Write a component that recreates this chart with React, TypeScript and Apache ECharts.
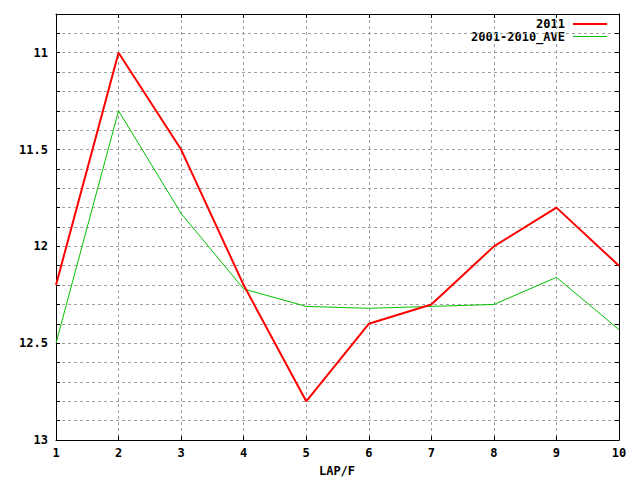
import React, { useEffect, useRef } from "react";
import * as echarts from "echarts";

const laps = [1, 2, 3, 4, 5, 6, 7, 8, 9, 10];
const series2011 = [12.2, 11.0, 11.5, 12.2, 12.8, 12.4, 12.3, 12.0, 11.8, 12.1];
const seriesAve = [12.5, 11.3, 11.83, 12.22, 12.31, 12.32, 12.31, 12.3, 12.16, 12.43];
const seriesNames = ["2011", "2001-2010_AVE"];
const xTitle = "LAP/F";

const FONT = "'DejaVu Sans Mono', monospace";

export default function App() {
  const ref = useRef<HTMLDivElement>(null);
  useEffect(() => {
    if (!ref.current) return;
    const chart = echarts.init(ref.current, null, { renderer: "svg" });
    const yLabel = (v: number) => {
      const d = v * 2;
      if (Math.abs(d - Math.round(d)) > 1e-6) return "";
      const r = Math.round(d) / 2;
      return String(r);
    };
    const tickStyle = { show: true, inside: true, length: 4, lineStyle: { color: "#000", width: 1 } };
    const split = { show: true, lineStyle: { color: "#a0a0a0", type: [3, 3] as any, width: 1 } };
    chart.setOption({
      animation: false,
      backgroundColor: "#fff",
      grid: { left: 56, right: 21, top: 14, bottom: 40, show: false },
      xAxis: [
        {
          type: "value",
          min: 1,
          max: 10,
          interval: 1,
          axisLine: { show: true, onZero: false, lineStyle: { color: "#000", width: 1 } },
          axisTick: tickStyle,
          splitLine: split,
          axisLabel: { color: "#000", fontFamily: FONT, fontWeight: "bold", fontSize: 12, margin: 7 },
        },
        {
          type: "value",
          position: "top",
          min: 1,
          max: 10,
          interval: 1,
          axisLine: { show: true, onZero: false, lineStyle: { color: "#000", width: 1 } },
          axisTick: tickStyle,
          splitLine: { show: false },
          axisLabel: { show: false },
        },
      ],
      yAxis: [
        {
          type: "value",
          inverse: true,
          min: 10.8,
          max: 13,
          interval: 0.1,
          axisLine: { show: true, onZero: false, lineStyle: { color: "#000", width: 1 } },
          axisTick: tickStyle,
          splitLine: split,
          axisLabel: {
            color: "#000",
            fontFamily: FONT,
            fontWeight: "bold",
            fontSize: 12,
            margin: 8,
            formatter: yLabel,
            showMinLabel: true,
            showMaxLabel: true,
          },
        },
        {
          type: "value",
          inverse: true,
          position: "right",
          min: 10.8,
          max: 13,
          interval: 0.1,
          axisLine: { show: true, onZero: false, lineStyle: { color: "#000", width: 1 } },
          axisTick: tickStyle,
          splitLine: { show: false },
          axisLabel: { show: false },
        },
      ],
      series: [
        {
          name: seriesNames[0],
          type: "line",
          data: laps.map((x, i) => [x, series2011[i]]),
          symbol: "none",
          lineStyle: { color: "#ff0000", width: 2 },
          z: 3,
        },
        {
          name: seriesNames[1],
          type: "line",
          data: laps.map((x, i) => [x, seriesAve[i]]),
          symbol: "none",
          lineStyle: { color: "#00c000", width: 1 },
          z: 2,
        },
      ],
      graphic: [
        {
          type: "text",
          x: 565,
          y: 24,
          style: { text: seriesNames[0], fill: "#000", font: `bold 12px ${FONT}`, align: "right", verticalAlign: "middle" },
        },
        { type: "line", shape: { x1: 573, y1: 24, x2: 607, y2: 24 }, style: { stroke: "#ff0000", lineWidth: 2 } },
        {
          type: "text",
          x: 565,
          y: 37,
          style: { text: seriesNames[1], fill: "#000", font: `bold 12px ${FONT}`, align: "right", verticalAlign: "middle" },
        },
        { type: "line", shape: { x1: 573, y1: 36.5, x2: 607, y2: 36.5 }, style: { stroke: "#00c000", lineWidth: 1 } },
        {
          type: "text",
          x: 337,
          y: 471,
          style: { text: xTitle, fill: "#000", font: `bold 12px ${FONT}`, align: "center", verticalAlign: "middle" },
        },
      ],
    });
    return () => chart.dispose();
  }, []);
  return <div ref={ref} style={{ position: "fixed", left: 0, top: 0, width: 640, height: 480 }} />;
}
